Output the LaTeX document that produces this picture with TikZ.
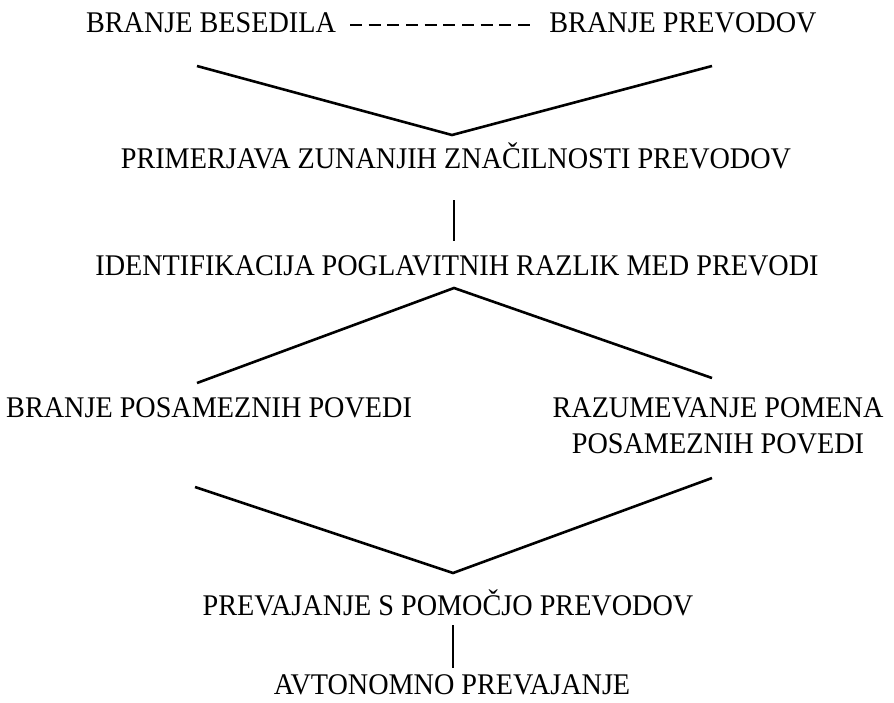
\documentclass[tikz,border=0pt]{standalone}
\usepackage{fontspec}
\setmainfont{Liberation Serif}[FakeStretch=0.94]
\begin{document}
\begin{tikzpicture}[x=1pt,y=-1pt,
  lbl/.style={inner sep=0pt,anchor=base,font=\fontsize{30}{36}\selectfont},
  link/.style={line width=2.6pt,line join=miter},
  dashlink/.style={line width=2pt,dash pattern=on 12pt off 6.67pt}]
\useasboundingbox[fill=white] (0,0) rectangle (894,702);
% texts
\node[lbl] (bb)  at (211,32)  {BRANJE BESEDILA};
\node[lbl] (bp)  at (683,32)  {BRANJE PREVODOV};
\node[lbl] (pz)  at (456,168) {PRIMERJAVA ZUNANJIH ZNAČILNOSTI PREVODOV};
\node[lbl] (id)  at (457,275) {IDENTIFIKACIJA POGLAVITNIH RAZLIK MED PREVODI};
\node[lbl,anchor=base west] (bpp) at (6,417) {BRANJE POSAMEZNIH POVEDI};
\node[lbl,align=center] (rpm) at (718,453) {RAZUMEVANJE POMENA\\POSAMEZNIH POVEDI};
\node[lbl] (pre) at (448,615) {PREVAJANJE S POMOČJO PREVODOV};
\node[lbl] (avt) at (452,694) {AVTONOMNO PREVAJANJE};
% connector end points
\coordinate (d1) at (350,25);
\coordinate (d2) at (530,25);
\coordinate (v1l) at (197,66);
\coordinate (v1)  at (452,135);
\coordinate (v1r) at (712,66);
\coordinate (s1a) at (454,200);
\coordinate (s1b) at (454,241);
\coordinate (v2)  at (454,288);
\coordinate (v2l) at (197,383);
\coordinate (v2r) at (712,378);
\coordinate (v3l) at (195,487);
\coordinate (v3)  at (453,573);
\coordinate (v3r) at (712,478);
\coordinate (s2a) at (453,625);
\coordinate (s2b) at (453,668);
% connectors
\draw[dashlink] (d1) -- (d2);
\draw[link] (v1l) -- (v1) -- (v1r);
\draw[link] (s1a) -- (s1b);
\draw[link] (v2l) -- (v2) -- (v2r);
\draw[link] (v3l) -- (v3) -- (v3r);
\draw[link] (s2a) -- (s2b);
\end{tikzpicture}
\end{document}
